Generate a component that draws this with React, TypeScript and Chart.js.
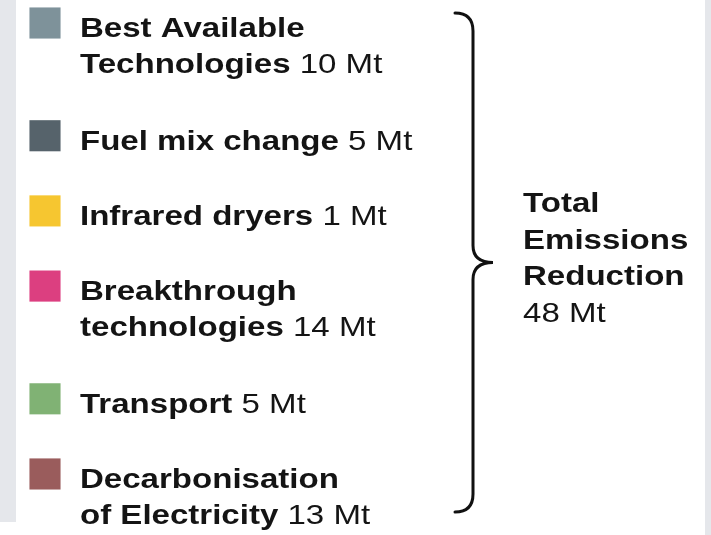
import React, { useEffect, useRef } from "react";
import { Chart, registerables } from "chart.js";

Chart.register(...registerables);

// ---- data ----
const categories = [
  "Best Available Technologies",
  "Fuel mix change",
  "Infrared dryers",
  "Breakthrough technologies",
  "Transport",
  "Decarbonisation of Electricity",
];
const labelLines = [
  ["Best Available", "Technologies"],
  ["Fuel mix change"],
  ["Infrared dryers"],
  ["Breakthrough", "technologies"],
  ["Transport"],
  ["Decarbonisation", "of Electricity"],
];
const reductionsMt = [10, 5, 1, 14, 5, 13];
const swatchColors = ["#7e929a", "#56636b", "#f6c630", "#dc3f80", "#80b274", "#9a5c5c"];
const totalLines = ["Total", "Emissions", "Reduction"];
const totalMt = 48;
const unit = "Mt";

// row slot positions (in line units) derived from number of label lines
const rowSlots: number[] = [];
{
  let acc = 0;
  labelLines.forEach((l) => {
    rowSlots.push(acc);
    acc += l.length + 1;
  });
}

const FONT = '"Liberation Sans", Arial, Helvetica, sans-serif';
const SX = 1.18;
const TEXT = "#141414";

function drawStretched(ctx: CanvasRenderingContext2D, text: string, x: number, y: number, font: string) {
  ctx.save();
  ctx.font = font;
  ctx.translate(x, y);
  ctx.scale(SX, 1);
  ctx.fillText(text, 0, 0);
  const w = ctx.measureText(text).width * SX;
  ctx.restore();
  return w;
}

const backgroundPlugin = {
  id: "bgStrips",
  beforeDraw(chart: any) {
    const ctx = chart.ctx as CanvasRenderingContext2D;
    ctx.save();
    ctx.fillStyle = "#ffffff";
    ctx.fillRect(0, 0, chart.width, chart.height);
    ctx.fillStyle = "#e5e7eb";
    ctx.fillRect(0, 0, 16, 522);
    ctx.fillRect(chart.width - 6, 0, 6, chart.height);
    ctx.restore();
  },
};

const legendTextPlugin = {
  id: "legendText",
  afterDraw(chart: any) {
    const ctx = chart.ctx as CanvasRenderingContext2D;
    const ys = chart.scales.y;
    const bold = `bold 28px ${FONT}`;
    const regular = `28px ${FONT}`;
    ctx.save();
    ctx.fillStyle = TEXT;
    ctx.textBaseline = "alphabetic";
    ctx.textAlign = "left";
    const lineGap = 36;
    labelLines.forEach((lines, i) => {
      const cy = ys.getPixelForValue(rowSlots[i]);
      lines.forEach((ln, j) => {
        const by = cy + 14 + j * lineGap;
        const w = drawStretched(ctx, ln, 80, by, bold);
        if (j === lines.length - 1) {
          ctx.font = bold;
          const sp = ctx.measureText(" ").width * SX;
          drawStretched(ctx, `${reductionsMt[i]} ${unit}`, 80 + w + sp, by, regular);
        }
      });
    });

    // brace
    const top = ys.getPixelForValue(rowSlots[0]) - 10;
    const bottom = ys.getPixelForValue(rowSlots[rowSlots.length - 1]) + 38;
    const mid = (top + bottom) / 2;
    const x0 = 455;
    const xv = 473;
    const xt = 493;
    ctx.strokeStyle = "#111111";
    ctx.lineWidth = 3;
    ctx.lineCap = "round";
    ctx.beginPath();
    ctx.moveTo(x0, top);
    ctx.quadraticCurveTo(xv, top, xv, top + 18);
    ctx.lineTo(xv, mid - 17);
    ctx.quadraticCurveTo(xv, mid, xt, mid);
    ctx.quadraticCurveTo(xv, mid, xv, mid + 17);
    ctx.lineTo(xv, bottom - 18);
    ctx.quadraticCurveTo(xv, bottom, x0, bottom);
    ctx.stroke();

    // total text
    const tx = 523;
    const allLines = [...totalLines, `${totalMt} ${unit}`];
    const startY = mid - 50;
    allLines.forEach((ln, k) => {
      const isLast = k === allLines.length - 1;
      drawStretched(ctx, ln, tx, startY + k * 36.5, isLast ? regular : bold);
    });
    ctx.restore();
  },
};

export default function App() {
  const ref = useRef<HTMLCanvasElement | null>(null);
  useEffect(() => {
    document.body.style.margin = "0";
    if (!ref.current) return;
    const chart = new Chart(ref.current, {
      type: "scatter",
      data: {
        labels: categories,
        datasets: [
          {
            label: "Emissions reduction",
            data: categories.map((_, i) => ({ x: 0, y: rowSlots[i] })),
            pointStyle: "rect",
            pointRadius: 22,
            pointHoverRadius: 22,
            backgroundColor: swatchColors,
            borderColor: swatchColors,
            borderWidth: 0,
          },
        ],
      },
      options: {
        animation: false,
        responsive: false,
        maintainAspectRatio: false,
        events: [],
        layout: { padding: 0, autoPadding: false },
        plugins: {
          legend: { display: false },
          tooltip: { enabled: false },
        },
        scales: {
          x: { type: "linear", display: false, min: -1, max: 14.8 },
          y: { type: "linear", display: false, reverse: true, min: -0.612, max: 13.624 },
        },
      },
      plugins: [backgroundPlugin, legendTextPlugin],
    });
    return () => chart.destroy();
  }, []);
  return (
    <div style={{ position: "fixed", left: 0, top: 0, width: 711, height: 535 }}>
      <canvas ref={ref} width={711} height={535} style={{ display: "block", width: 711, height: 535 }} />
    </div>
  );
}
